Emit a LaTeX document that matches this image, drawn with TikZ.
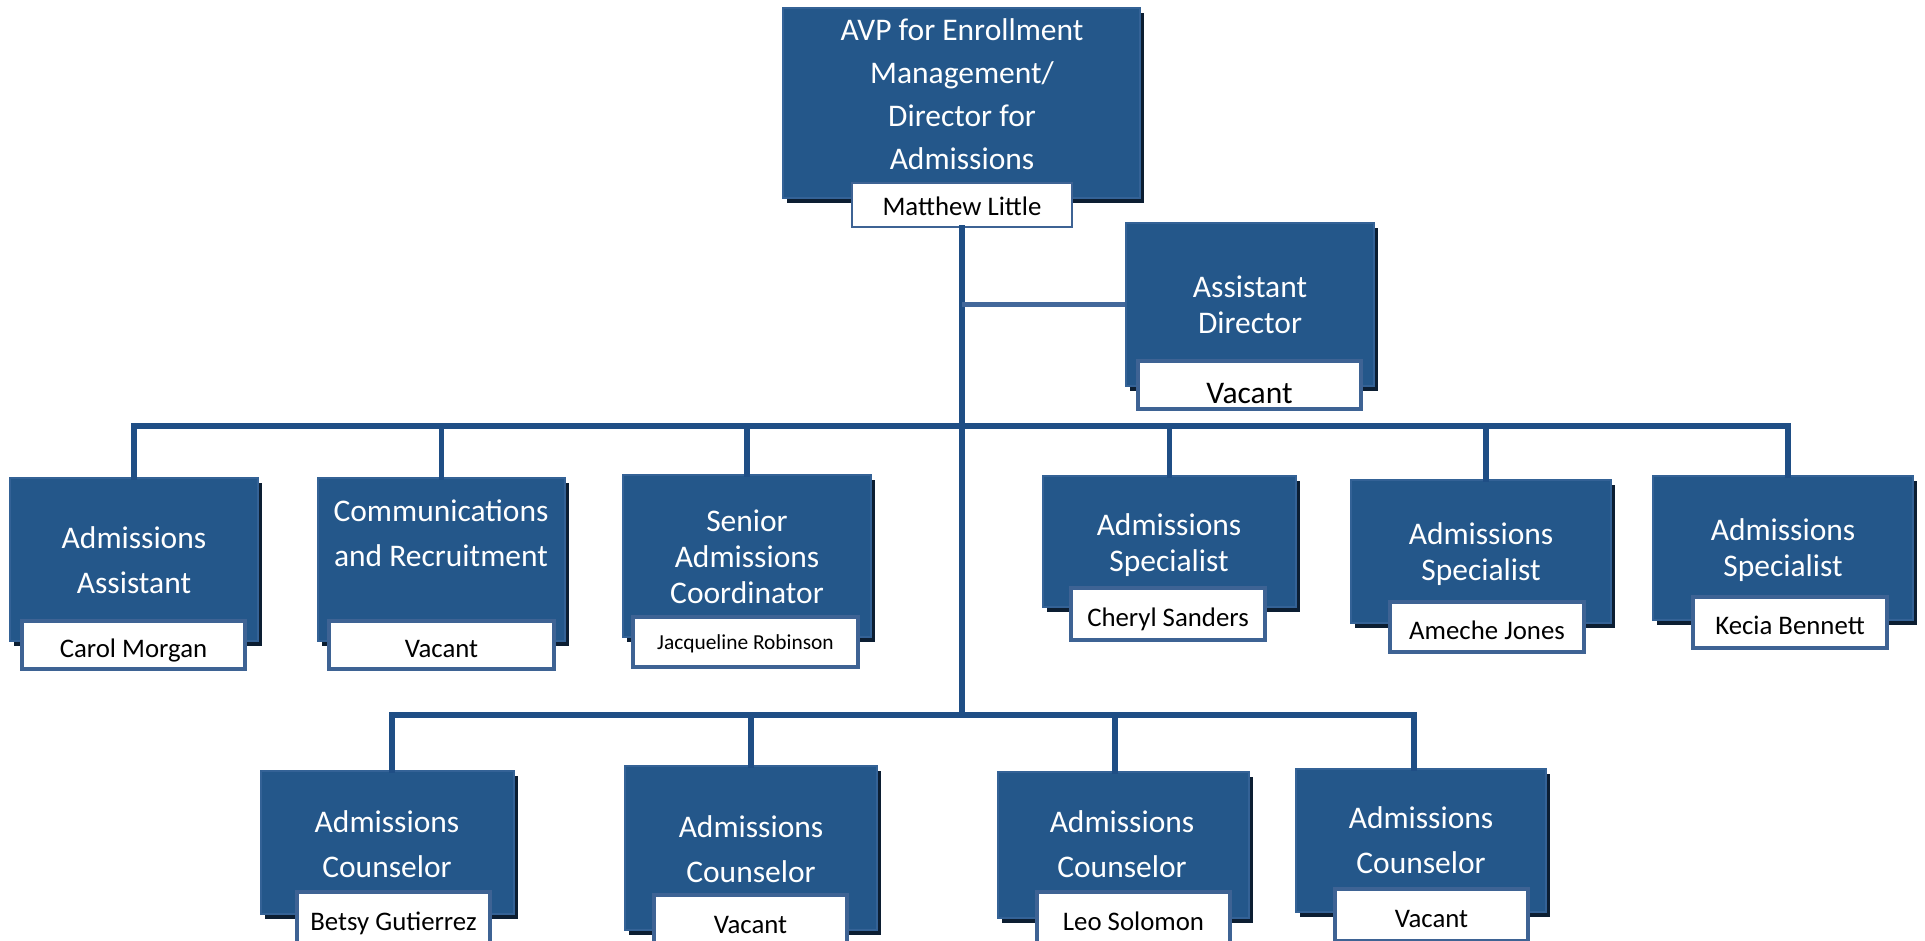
\documentclass[tikz,border=0pt]{standalone}
\usepackage{fontspec}
\setmainfont{Carlito}
\usetikzlibrary{shadows}
\definecolor{boxblue}{RGB}{36,87,138}
\definecolor{boxedge}{RGB}{52,98,150}
\definecolor{shadowc}{RGB}{12,30,50}
\definecolor{lblborder}{RGB}{62,99,148}
\definecolor{linec}{RGB}{31,78,133}
\definecolor{linel}{RGB}{67,104,155}
\newcommand\orgbox[5]{\node[orgbox, minimum width={(#4-#2)*0.5pt}, minimum height={(#5-#3)*0.5pt}] (#1) at ({(#2+#4)/2},{(#3+#5)/2}) {};}
\newcommand\orglabel[8]{\node[#6, minimum width={(#4-#2)*0.5pt}, minimum height={(#5-#3)*0.5pt}] (#1) at ({(#2+#4)/2},{(#3+#5)/2}) {\raisebox{-#7}[0pt][0pt]{#8}};}
\tikzset{
  orgbox/.style={rectangle, fill=boxblue, draw=boxedge, line width=0.6pt, inner sep=0pt,
    drop shadow={shadow xshift=1.8pt, shadow yshift=-2.3pt, fill=shadowc, opacity=1, draw=none}},
  namebox/.style={rectangle, fill=white, draw=lblborder, line width=2.4pt, inner sep=0pt,
    font=\fontsize{13.4}{15}\selectfont},
  thinname/.style={rectangle, fill=white, draw=lblborder, line width=0.7pt, inner sep=0pt,
    font=\fontsize{13.4}{15}\selectfont},
  title/.style={text=white, align=center, inner sep=0pt, font=\fontsize{15.75}{22.5}\selectfont},
  tight/.style={font=\fontsize{15.75}{18}\selectfont},
  conn/.style={draw=linec, line width=2.7pt, line cap=rect, line join=miter},
  connl/.style={draw=linel, line width=2.7pt},
}
\begin{document}
\begin{tikzpicture}[x=0.5pt, y=-0.5pt]
\fill[white] (0,0) rectangle (1925,941);
\useasboundingbox (0,0) rectangle (1925,941);
% boxes
\orgbox{avp}{783}{8}{1140}{198}
\orgbox{ad}{1126}{223}{1374}{386}
\orgbox{aa}{10}{478}{258}{641}
\orgbox{comm}{318}{478}{565}{641}
\orgbox{sac}{623}{475}{871}{637}
\orgbox{spa}{1043}{476}{1296}{607}
\orgbox{spb}{1351}{480}{1611}{623}
\orgbox{spc}{1653}{476}{1913}{620}
\orgbox{cna}{261}{771}{514}{914}
\orgbox{cnb}{625}{766}{877}{930}
\orgbox{cnc}{998}{772}{1249}{918}
\orgbox{cnd}{1296}{769}{1546}{912}
% titles
\node[title, font=\fontsize{15.75}{21.5}\selectfont] (tavp) at (962,94) {AVP for Enrollment\\Management/\\Director for\\Admissions};
\node[title, tight] (tad) at (1250,305) {Assistant\\Director};
\node[title] (taa) at (134,560) {Admissions\\Assistant};
\node[title] (tcomm) at (441,533) {Communications\\and Recruitment};
\node[title, tight] (tsac) at (747,557) {Senior\\Admissions\\Coordinator};
\node[title, tight] (tspa) at (1169,545) {Admissions\\Specialist};
\node[title, tight] (tspb) at (1481,554) {Admissions\\Specialist};
\node[title, tight] (tspc) at (1783,550) {Admissions\\Specialist};
\node[title] (tcna) at (387,844) {Admissions\\Counselor};
\node[title] (tcnb) at (751,849) {Admissions\\Counselor};
\node[title] (tcnc) at (1122,844) {Admissions\\Counselor};
\node[title] (tcnd) at (1421,840) {Admissions\\Counselor};
% name labels
\orglabel{ml}{852}{183}{1072}{227}{thinname}{5.2pt}{Matthew Little}
\orglabel{adv}{1138}{361}{1361}{409}{namebox, font=\fontsize{15.75}{18}\selectfont}{9pt}{Vacant}
\orglabel{aal}{22}{621}{245}{669}{namebox}{6.2pt}{Carol Morgan}
\orglabel{comml}{329}{621}{554}{669}{namebox}{6.2pt}{Vacant}
\orglabel{sacl}{633}{617}{858}{667}{namebox, font=\fontsize{10.7}{12}\selectfont}{3.9pt}{Jacqueline Robinson}
\orglabel{spal}{1071}{588}{1265}{640}{namebox}{6.2pt}{Cheryl Sanders}
\orglabel{spbl}{1390}{602}{1584}{652}{namebox}{6.2pt}{Ameche Jones}
\orglabel{spcl}{1693}{597}{1887}{648}{namebox}{6.2pt}{Kecia Bennett}
\orglabel{cnal}{297}{892}{490}{944}{namebox}{6.2pt}{Betsy Gutierrez}
\orglabel{cnbl}{654}{895}{847}{947}{namebox}{6.2pt}{Vacant}
\orglabel{cncl}{1037}{892}{1230}{944}{namebox}{6.2pt}{Leo Solomon}
\orglabel{cndl}{1335}{889}{1528}{941}{namebox}{6.2pt}{Vacant}
% connectors
\coordinate (ja) at (962,426);
\coordinate (jb) at (962,715);
\draw[conn] (ml.south) -- (ml.south |- jb);
\draw[connl] (ml.south |- ad.west) -- (ad.west);
\draw[conn] (aa.north) -- (aa.north |- ja) -- ([xshift=2.5pt]spc.north |- ja) -- ([xshift=2.5pt]spc.north);
\draw[conn] (comm.north) -- (comm.north |- ja);
\draw[conn] (sac.north) -- (sac.north |- ja);
\draw[conn] (spa.north) -- (spa.north |- ja);
\draw[conn] ([xshift=2.5pt]spb.north) -- ([xshift=2.5pt]spb.north |- ja);
\draw[conn] ([xshift=2.2pt]cna.north) -- ([xshift=2.2pt]cna.north |- jb) -- ([xshift=-3.5pt]cnd.north |- jb) -- ([xshift=-3.5pt]cnd.north);
\draw[conn] (cnb.north) -- (cnb.north |- jb);
\draw[conn] ([xshift=-4.2pt]cnc.north) -- ([xshift=-4.2pt]cnc.north |- jb);
\end{tikzpicture}
\end{document}
